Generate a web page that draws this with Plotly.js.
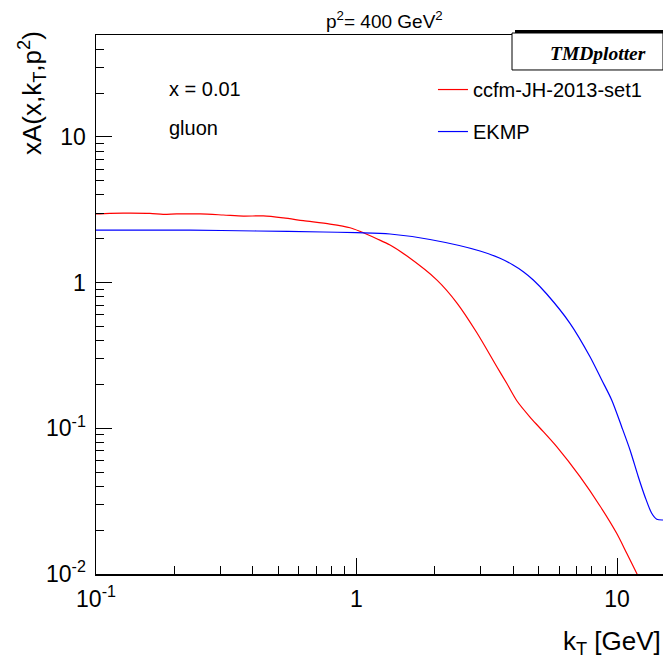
<!DOCTYPE html>
<html>
<head>
<meta charset="utf-8">
<script src="https://cdn.plot.ly/plotly-3.0.1.min.js"></script>
<style>html,body{margin:0;padding:0;background:#fff;}#chart{width:663px;height:660px;}</style>
</head>
<body>
<div id="chart"></div>
<script>
// ccfm-JH-2013-set1 (red)
var ktCcfm = [0.1, 0.113, 0.127, 0.161, 0.181, 0.204, 0.251, 0.308, 0.368, 0.439, 0.524, 0.625, 0.791, 0.944, 1.03, 1.196, 1.345, 1.563, 2.037, 2.431, 2.902, 3.462, 3.773, 4.131, 4.634, 5.06, 5.868, 7.211, 8.605, 9.97, 10.9, 11.9, 12.92];
var xaCcfm = [2.96, 2.99, 3.00, 2.99, 2.94, 2.96, 2.96, 2.91, 2.86, 2.87, 2.78, 2.66, 2.52, 2.38, 2.25, 2.0, 1.81, 1.52, 1.04, 0.724, 0.451, 0.2635, 0.2037, 0.1540, 0.1195, 0.1005, 0.07477, 0.04653, 0.02929, 0.01902, 0.01387, 0.01011, 0.0074];
// EKMP (blue)
var ktEkmp = [0.1, 0.23, 0.414, 0.746, 1.0, 1.345, 1.915, 2.98, 3.556, 3.99, 4.369, 4.772, 5.373, 6.601, 7.878, 8.739, 9.541, 10.42, 11.22, 12.07, 12.81, 13.59, 14.21, 15.02];
var xaEkmp = [2.29, 2.29, 2.26, 2.225, 2.20, 2.156, 1.976, 1.648, 1.468, 1.321, 1.188, 1.042, 0.8351, 0.5257, 0.3100, 0.2145, 0.1564, 0.1026, 0.0710, 0.04653, 0.03393, 0.0261, 0.02374, 0.02348];

var seriesNames = ['ccfm-JH-2013-set1', 'EKMP'];
var xTickVals = [0.1, 1, 10];
var xTickText = ['10<sup>-1</sup>', '1', '10'];
var yTickVals = [0.01, 0.1, 1, 10];
var yTickText = ['10<sup>-2</sup>', '10<sup>-1</sup>', '1', '10'];

var FONT = 'Liberation Sans, Arial, Helvetica, sans-serif';

var traces = [
  {x: ktCcfm, y: xaCcfm, type: 'scatter', mode: 'lines', name: seriesNames[0], legendgroup: 'a',
   line: {color: '#ff0000', width: 1.2, shape: 'spline', smoothing: 0.8}},
  {x: ktEkmp, y: xaEkmp, type: 'scatter', mode: 'lines', name: seriesNames[1], legendgroup: 'b',
   line: {color: '#0000ff', width: 1.2, shape: 'spline', smoothing: 0.8}}
];

var axisCommon = {
  type: 'log', showgrid: false, zeroline: false,
  showline: true, linecolor: '#000', linewidth: 1.5,
  ticks: 'inside', ticklen: 16, tickwidth: 1, tickcolor: '#000',
  tickmode: 'array',
  minor: {ticks: 'inside', ticklen: 8, tickwidth: 1, tickcolor: '#000', dtick: 'D1', showgrid: false},
  tickfont: {family: FONT, size: 23, color: '#000'}
};

var layout = {
  width: 663, height: 660,
  margin: {l: 96, r: 0, t: 35, b: 86, pad: 0},
  paper_bgcolor: '#fff', plot_bgcolor: '#fff',
  showlegend: true,
  legend: {x: 0.5943, y: 0.935, xanchor: 'left', yanchor: 'top', bgcolor: 'rgba(0,0,0,0)',
           font: {family: FONT, size: 20, color: '#000'}, tracegroupgap: 13, itemwidth: 30},
  xaxis: Object.assign({}, axisCommon, {range: [-1, 1.1766], tickvals: xTickVals, ticktext: xTickText,
           mirror: true, ticklabelstandoff: 4}),
  yaxis: Object.assign({}, axisCommon, {range: [-2, 1.6994], tickvals: yTickVals, ticktext: yTickText,
           mirror: false, ticklabelstandoff: 4}),
  shapes: [
    {type: 'rect', xref: 'paper', yref: 'paper', x0: 0.7337, x1: 1.0, y0: 0.9351, y1: 1.0037,
     line: {color: '#000', width: 1}, fillcolor: '#fff', layer: 'above'},
    {type: 'line', xref: 'paper', yref: 'paper', x0: 0.739, x1: 1.0, y0: 1.0065, y1: 1.0065,
     line: {color: '#000', width: 3}, layer: 'above'}
  ],
  annotations: [
    {text: 'p<sup>2</sup>= 400 GeV<sup>2</sup>', xref: 'paper', yref: 'paper', x: 0.5097, y: 1.0278,
     xanchor: 'center', yanchor: 'middle', showarrow: false, font: {family: FONT, size: 19, color: '#000'}},
    {text: '<b><i>TMDplotter</i></b>', xref: 'paper', yref: 'paper', x: 0.8862, y: 0.966,
     xanchor: 'center', yanchor: 'middle', showarrow: false, font: {family: 'Liberation Serif, Times New Roman, serif', size: 19.5, color: '#000'}},
    {text: 'x = 0.01', xref: 'paper', yref: 'paper', x: 0.126, y: 0.8998,
     xanchor: 'left', yanchor: 'middle', showarrow: false, font: {family: FONT, size: 20, color: '#000'}},
    {text: 'gluon', xref: 'paper', yref: 'paper', x: 0.126, y: 0.8275,
     xanchor: 'left', yanchor: 'middle', showarrow: false, font: {family: FONT, size: 20, color: '#000'}},
    {text: 'xA(x,k<sub>T</sub>,p<sup>2</sup>)', xref: 'paper', yref: 'paper', x: -0.1129, y: 1.0111,
     xanchor: 'center', yanchor: 'top', textangle: -90, showarrow: false, font: {family: FONT, size: 26, color: '#000'}},
    {text: 'k<sub>T</sub> [GeV]', xref: 'paper', yref: 'paper', x: 0.998, y: -0.1595,
     xanchor: 'right', yanchor: 'bottom', borderpad: 0, showarrow: false, font: {family: FONT, size: 26, color: '#000'}}
  ]
};

Plotly.newPlot('chart', traces, layout, {staticPlot: true, displayModeBar: false});
</script>
</body>
</html>
